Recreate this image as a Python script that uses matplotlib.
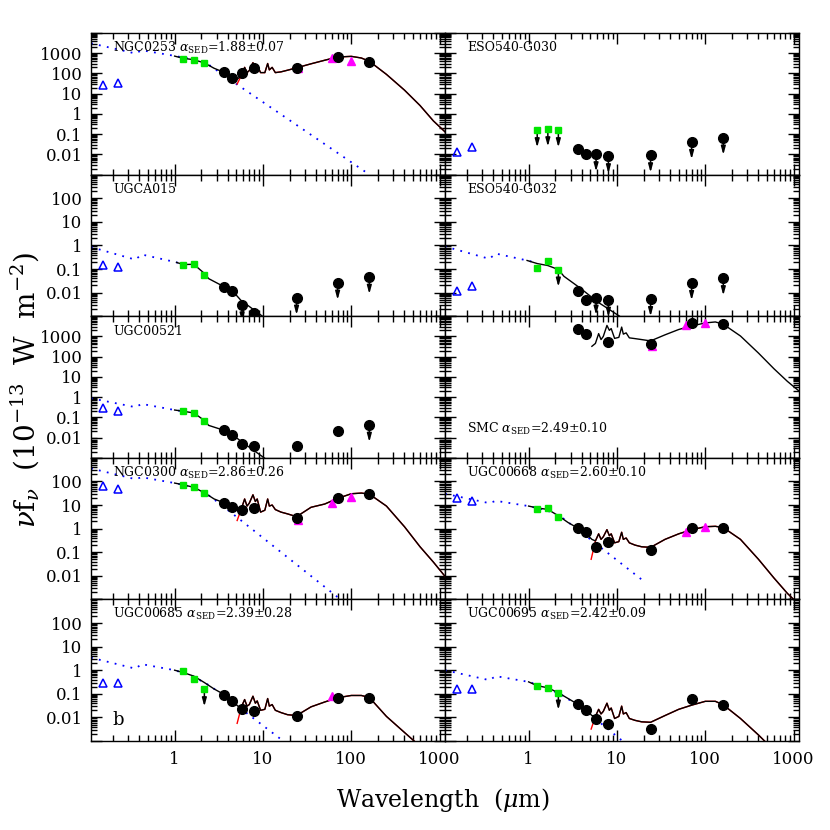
import numpy as np
import matplotlib.pyplot as plt
from matplotlib.ticker import LogLocator, FuncFormatter, NullFormatter
from matplotlib.transforms import offset_copy

plt.rcParams['font.family'] = ['DejaVu Serif']
plt.rcParams['mathtext.fontset'] = 'dejavuserif'

# band wavelengths (micron)
GALEX_LAM = [0.153, 0.231]
NIR_LAM = [1.25, 1.65, 2.17]
SST_LAM = [3.6, 4.5, 5.8, 8.0, 24, 70, 160]
IRAS_LAM = [12, 25, 60, 100]
MODEL_LAM = [1.0, 1.25, 1.65, 2.17, 2.8, 3.6, 4.5, 5.2, 5.7, 6.2, 6.6, 7.0, 7.7, 8.2, 8.6,
             9.4, 10.5, 11.3, 11.8, 12.7, 13.8, 16, 19, 24, 35, 50, 70, 100, 130, 160,
             250, 400, 600, 850, 1150]

# ---- NGC0253
ngc0253_galex = [28, 32]
ngc0253_nir = [512, 470, 335]
ngc0253_sst = [112, 60, 107, 177, 190, 665, 377]
ngc0253_iras = [None, 190, 550, 437]
ngc0253_star_lam = [0.113, 0.357, 0.426, 1.0, 1.6, 2.5, 4.3, 147]
ngc0253_star = [3100, 980, 1400, 740, 500, 250, 47, 0.0013]
ngc0253_model = [720, 560, 480, 330, 180, 115, 65, 55, 80, 200, 110, 140, 340, 200, 250,
                 110, 110, 310, 150, 200, 110, 120, 145, 190, 300, 450, 650, 700, 580, 400,
                 90, 15, 2.6, 0.45, 0.13]
ngc0253_hook = 30

# ---- ESO540-G030
eso030_galex = [0.0128, 0.022]
eso030_nir = [0.153, 0.17, 0.153]
eso030_sst = [0.018, 0.0102, 0.0099, 0.0079, 0.0088, 0.04, 0.066]

# ---- UGCA015
ugca015_galex = [0.143, 0.12]
ugca015_nir = [0.153, 0.16, 0.057]
ugca015_sst = [0.018, 0.0114, 0.0031, 0.0014, 0.006, 0.026, 0.046]
ugca015_star_lam = [0.113, 0.357, 0.426, 1.0, 1.25]
ugca015_star = [0.85, 0.25, 0.41, 0.2, 0.16]
ugca015_model_lam = [1.05, 1.25, 1.65, 2.17, 2.43, 3.6, 4.5, 5.6, 9.85, 12]
ugca015_model = [0.19, 0.155, 0.158, 0.065, 0.039, 0.018, 0.012, 0.0048, 0.001, 0.0005]

# ---- ESO540-G032
eso032_galex = [0.0118, 0.0186]
eso032_nir = [0.114, 0.21, 0.093]
eso032_sst = [0.0122, 0.005, 0.006, 0.0049, 0.0052, 0.025, 0.04]
eso032_star_lam = [0.112, 0.358, 0.426, 0.96, 1.25]
eso032_star = [0.91, 0.27, 0.45, 0.23, 0.18]
eso032_model_lam = [0.96, 1.25, 1.65, 2.17, 2.51, 3.9, 6.05, 10.7, 12]
eso032_model = [0.23, 0.17, 0.14, 0.095, 0.049, 0.0148, 0.004, 0.001, 0.0006]

# ---- UGC00521
ugc00521_galex = [0.29, 0.2]
ugc00521_nir = [0.2, 0.16, 0.069]
ugc00521_sst = [0.0227, 0.0138, 0.0048, 0.004, 0.004, 0.021, 0.042]
ugc00521_star_lam = [0.113, 0.357, 0.426, 1.0, 1.25]
ugc00521_star = [0.88, 0.32, 0.46, 0.23, 0.2]
ugc00521_model_lam = [1.0, 1.25, 1.65, 2.17, 2.43, 3.6, 4.5, 5.8, 10.3, 12]
ugc00521_model = [0.23, 0.2, 0.165, 0.07, 0.04, 0.023, 0.014, 0.006, 0.001, 0.0006]

# ---- SMC
smc_sst = [2260, 1320, None, 530, 437, 4650, 4000]
smc_iras = [None, 325, 3560, 4650]
smc_model = [None, None, None, None, None, None, None, 325, 450, 1380, 700, 1000, 3500, 2000, 2450,
             800, 900, 2900, 1300, 1500, 850, 780, 700, 600, 1200, 2200, 3300, 4650, 5200, 4000,
             1050, 150, 25, 6, 2.0]

# ---- NGC0300
ngc0300_galex = [63, 48]
ngc0300_nir = [72, 56, 32.6]
ngc0300_sst = [12.6, 7.9, 6.2, 7.2, 2.9, 19, 29.5]
ngc0300_iras = [None, 2.4, 11.7, 22.4]
ngc0300_star_lam = [0.113, 0.357, 0.426, 1.0, 1.6, 2.5, 5.1, 73]
ngc0300_star = [355, 125, 150, 85, 58, 24, 3.0, 0.0011]
ngc0300_model = [85, 72, 56, 33, 18, 12.5, 8.5, 6.2, 7, 18, 9, 12, 27, 14, 18,
                 5, 6, 18, 9, 10, 6.4, 5, 4.2, 3.2, 8, 11, 19, 30, 32, 29,
                 9, 1.2, 0.17, 0.038, 0.0095]
ngc0300_hook = 2.2

# ---- UGC00668
ugc00668_galex = [20, 15]
ugc00668_nir = [7.0, 7.8, 3.2]
ugc00668_sst = [1.1, 0.7, 0.16, 0.28, 0.12, 1.1, 1.1]
ugc00668_iras = [None, None, 0.75, 1.2]
ugc00668_star_lam = [0.113, 0.357, 0.426, 1.0, 1.6, 2.5, 5.0, 20]
ugc00668_star = [30, 12, 15, 9, 6, 2.6, 0.35, 0.006]
ugc00668_model = [9, 7.5, 6.5, 3.5, 1.8, 1.05, 0.6, 0.35, 0.3, 0.6, 0.35, 0.45, 0.9, 0.5, 0.6,
                  0.25, 0.28, 0.7, 0.35, 0.4, 0.25, 0.2, 0.17, 0.16, 0.35, 0.6, 0.9, 1.2, 1.25, 1.1,
                  0.35, 0.05, 0.008, 0.0018, 0.0006]
ugc00668_hook = 0.05

# ---- UGC00685
ugc00685_galex = [0.29, 0.29]
ugc00685_nir = [0.93, 0.41, 0.153]
ugc00685_sst = [0.093, 0.049, 0.022, 0.019, 0.0118, 0.066, 0.066]
ugc00685_iras = [None, None, 0.079, None]
ugc00685_star_lam = [0.113, 0.357, 0.426, 1.0, 1.6, 2.5, 4.5, 6.6, 15.9]
ugc00685_star = [3.4, 1.17, 1.8, 1.0, 0.56, 0.22, 0.045, 0.0148, 0.0012]
ugc00685_model = [1.0, 0.8, 0.56, 0.3, 0.16, 0.095, 0.05, 0.03, 0.028, 0.057, 0.03, 0.035, 0.079, 0.04, 0.05,
                  0.02, 0.022, 0.063, 0.03, 0.035, 0.02, 0.016, 0.013, 0.012, 0.028, 0.045, 0.068, 0.085, 0.085, 0.07,
                  0.011, 0.0023, 0.0006, 0.0002, 0.0001]
ugc00685_hook = 0.0056

# ---- UGC00695
ugc00695_galex = [0.158, 0.158]
ugc00695_nir = [0.22, 0.175, 0.11]
ugc00695_sst = [0.0355, 0.02, 0.0088, 0.0052, 0.0032, 0.063, 0.033]
ugc00695_star_lam = [0.113, 0.357, 0.426, 1.0, 1.6, 2.5, 4.5, 11.2]
ugc00695_star = [1.0, 0.38, 0.56, 0.32, 0.18, 0.08, 0.018, 0.0011]
ugc00695_model = [0.32, 0.22, 0.18, 0.11, 0.063, 0.036, 0.02, 0.012, 0.011, 0.022, 0.014, 0.018, 0.04, 0.02, 0.025,
                  0.009, 0.011, 0.03, 0.014, 0.016, 0.009, 0.0075, 0.0065, 0.0062, 0.012, 0.022, 0.033, 0.048, 0.048, 0.034,
                  0.009, 0.0018, 0.0004, 0.0001, 0.00003]
ugc00695_hook = 0.0032

ASED = r' $\alpha_{\rm SED}$=%s'

panels = [
    dict(name='NGC0253', sed='1.88±0.07', galex=ngc0253_galex, nir=ngc0253_nir, sst=ngc0253_sst,
         iras=ngc0253_iras, star=(ngc0253_star_lam, ngc0253_star), model=(MODEL_LAM, ngc0253_model),
         hook=ngc0253_hook),
    dict(name='ESO540-G030', galex=eso030_galex, nir=eso030_nir, sst=eso030_sst,
         nir_ul=[0, 1, 2], sst_ul=[2, 3, 4, 5, 6]),
    dict(name='UGCA015', galex=ugca015_galex, nir=ugca015_nir, sst=ugca015_sst, sst_ul=[2, 3, 4, 5, 6],
         star=(ugca015_star_lam, ugca015_star), model=(ugca015_model_lam, ugca015_model)),
    dict(name='ESO540-G032', galex=eso032_galex, nir=eso032_nir, sst=eso032_sst, nir_ul=[2],
         sst_ul=[2, 3, 4, 5, 6], star=(eso032_star_lam, eso032_star), model=(eso032_model_lam, eso032_model)),
    dict(name='UGC00521', galex=ugc00521_galex, nir=ugc00521_nir, sst=ugc00521_sst, sst_ul=[6],
         star=(ugc00521_star_lam, ugc00521_star), model=(ugc00521_model_lam, ugc00521_model)),
    dict(name='SMC', sed='2.49±0.10', sst=smc_sst, iras=smc_iras, model=(MODEL_LAM, smc_model),
         label_low=True),
    dict(name='NGC0300', sed='2.86±0.26', galex=ngc0300_galex, nir=ngc0300_nir, sst=ngc0300_sst,
         iras=ngc0300_iras, star=(ngc0300_star_lam, ngc0300_star), model=(MODEL_LAM, ngc0300_model),
         hook=ngc0300_hook),
    dict(name='UGC00668', sed='2.60±0.10', galex=ugc00668_galex, nir=ugc00668_nir, sst=ugc00668_sst,
         iras=ugc00668_iras, star=(ugc00668_star_lam, ugc00668_star), model=(MODEL_LAM, ugc00668_model),
         hook=ugc00668_hook),
    dict(name='UGC00685', sed='2.39±0.28', galex=ugc00685_galex, nir=ugc00685_nir, sst=ugc00685_sst,
         iras=ugc00685_iras, nir_ul=[2], star=(ugc00685_star_lam, ugc00685_star),
         model=(MODEL_LAM, ugc00685_model), hook=ugc00685_hook),
    dict(name='UGC00695', sed='2.42±0.09', galex=ugc00695_galex, nir=ugc00695_nir, sst=ugc00695_sst,
         nir_ul=[2], star=(ugc00695_star_lam, ugc00695_star), model=(MODEL_LAM, ugc00695_model),
         hook=ugc00695_hook),
]

row_ylim = [(1e-3, 1e4), (1e-3, 1e3), (1e-3, 1e4), (1e-3, 1e3), (1e-3, 1e3)]


def pairs(lam, vals):
    pts = [(l, v) for l, v in zip(lam, vals) if v is not None]
    return [p[0] for p in pts], [p[1] for p in pts]


def down_arrow(ax, x, y):
    tr = offset_copy(ax.transData, x=0, y=-17, units='dots')
    ax.annotate('', xy=(x, y), xycoords=tr, xytext=(x, y), textcoords='data', zorder=5.5,
                arrowprops=dict(arrowstyle='-|>,head_length=0.8,head_width=0.22', color='k',
                                lw=1.1, shrinkA=0, shrinkB=0, mutation_scale=6))


fig, axes = plt.subplots(5, 2, figsize=(8.3, 8.3), dpi=100)
fig.subplots_adjust(left=91/830, right=799/830, top=1-33/830, bottom=1-741/830,
                    wspace=0, hspace=0)

for i, p in enumerate(panels):
    row, col = divmod(i, 2)
    ax = axes[row, col]
    ax.set_xscale('log')
    ax.set_yscale('log')
    ax.set_xlim(0.113, 1150)
    lo, hi = row_ylim[row]
    ax.set_ylim(lo, hi)

    if 'star' in p:
        ax.plot(*p['star'], color='blue', ls=(0, (1, 3.5)), lw=1.3, zorder=2)
    if 'model' in p:
        mx, my = pairs(*p['model'])
        if 'hook' in p:
            rx = [5.1] + [l for l in mx if l >= 5.7]
            ry = [p['hook']] + [v for l, v in zip(mx, my) if l >= 5.7]
            ax.plot(rx, ry, color='red', lw=1.0, zorder=3)
        ax.plot(mx, my, color='black', lw=1.0, zorder=4)

    if 'galex' in p:
        ax.plot(GALEX_LAM, p['galex'], ls='none', marker='^', ms=6, mfc='none',
                mec='blue', mew=1.1, zorder=5)
    if 'iras' in p:
        ix, iy = pairs(IRAS_LAM, p['iras'])
        ax.plot(ix, iy, ls='none', marker='^', ms=6, color='magenta', zorder=5)
    if 'sst' in p:
        sx, sy = pairs(SST_LAM, p['sst'])
        ax.plot(sx, sy, ls='none', marker='o', ms=7, color='black', zorder=6)
        for j in p.get('sst_ul', []):
            down_arrow(ax, SST_LAM[j], p['sst'][j])
    if 'nir' in p:
        ax.plot(NIR_LAM, p['nir'], ls='none', marker='s', ms=5, color='#00e600', zorder=7)
        for j in p.get('nir_ul', []):
            down_arrow(ax, NIR_LAM[j], p['nir'][j])

    label = p['name'] + (ASED % p['sed'] if 'sed' in p else '')
    ly = 0.206 if p.get('label_low') else 0.895
    ax.text(0.062, ly, label, transform=ax.transAxes, fontsize=9, va='center', ha='left')

    ax.xaxis.set_major_locator(LogLocator(base=10, numticks=20))
    ax.xaxis.set_minor_locator(LogLocator(base=10, subs=np.arange(2, 10), numticks=20))
    ax.yaxis.set_major_locator(LogLocator(base=10, numticks=20))
    ax.yaxis.set_minor_locator(LogLocator(base=10, subs=np.arange(2, 10), numticks=20))
    ax.tick_params(which='both', direction='in', top=True, right=True, width=1.0)
    ax.tick_params(which='major', length=8)
    ax.tick_params(which='minor', length=4)
    ax.xaxis.set_minor_formatter(NullFormatter())
    ax.yaxis.set_minor_formatter(NullFormatter())
    if row == 4:
        ax.xaxis.set_major_formatter(FuncFormatter(lambda v, _: '%g' % v))
        ax.tick_params(axis='x', labelsize=12, pad=7)
    else:
        ax.xaxis.set_major_formatter(NullFormatter())
    if col == 0:
        ax.yaxis.set_major_formatter(
            FuncFormatter(lambda v, _, lo=lo, hi=hi: '%g' % v if lo * 1.01 < v < hi * 0.99 else ''))
        ax.tick_params(axis='y', labelsize=12, pad=6)
    else:
        ax.yaxis.set_major_formatter(NullFormatter())
    for s in ax.spines.values():
        s.set_linewidth(1.0)

axes[4, 0].text(0.076, 0.148, 'b', transform=axes[4, 0].transAxes, fontsize=13,
                va='center', ha='center')

fig.text(443/830, 1-800/830, r'Wavelength  ($\mu$m)', ha='center', va='center', fontsize=17)
fig.text(25/830, 1-390/830, r'$\nu$f$_\nu$  (10$^{-13}$  W  m$^{-2}$)', ha='center', va='center',
         rotation=90, fontsize=20)

fig.savefig('out.png', dpi=100)
